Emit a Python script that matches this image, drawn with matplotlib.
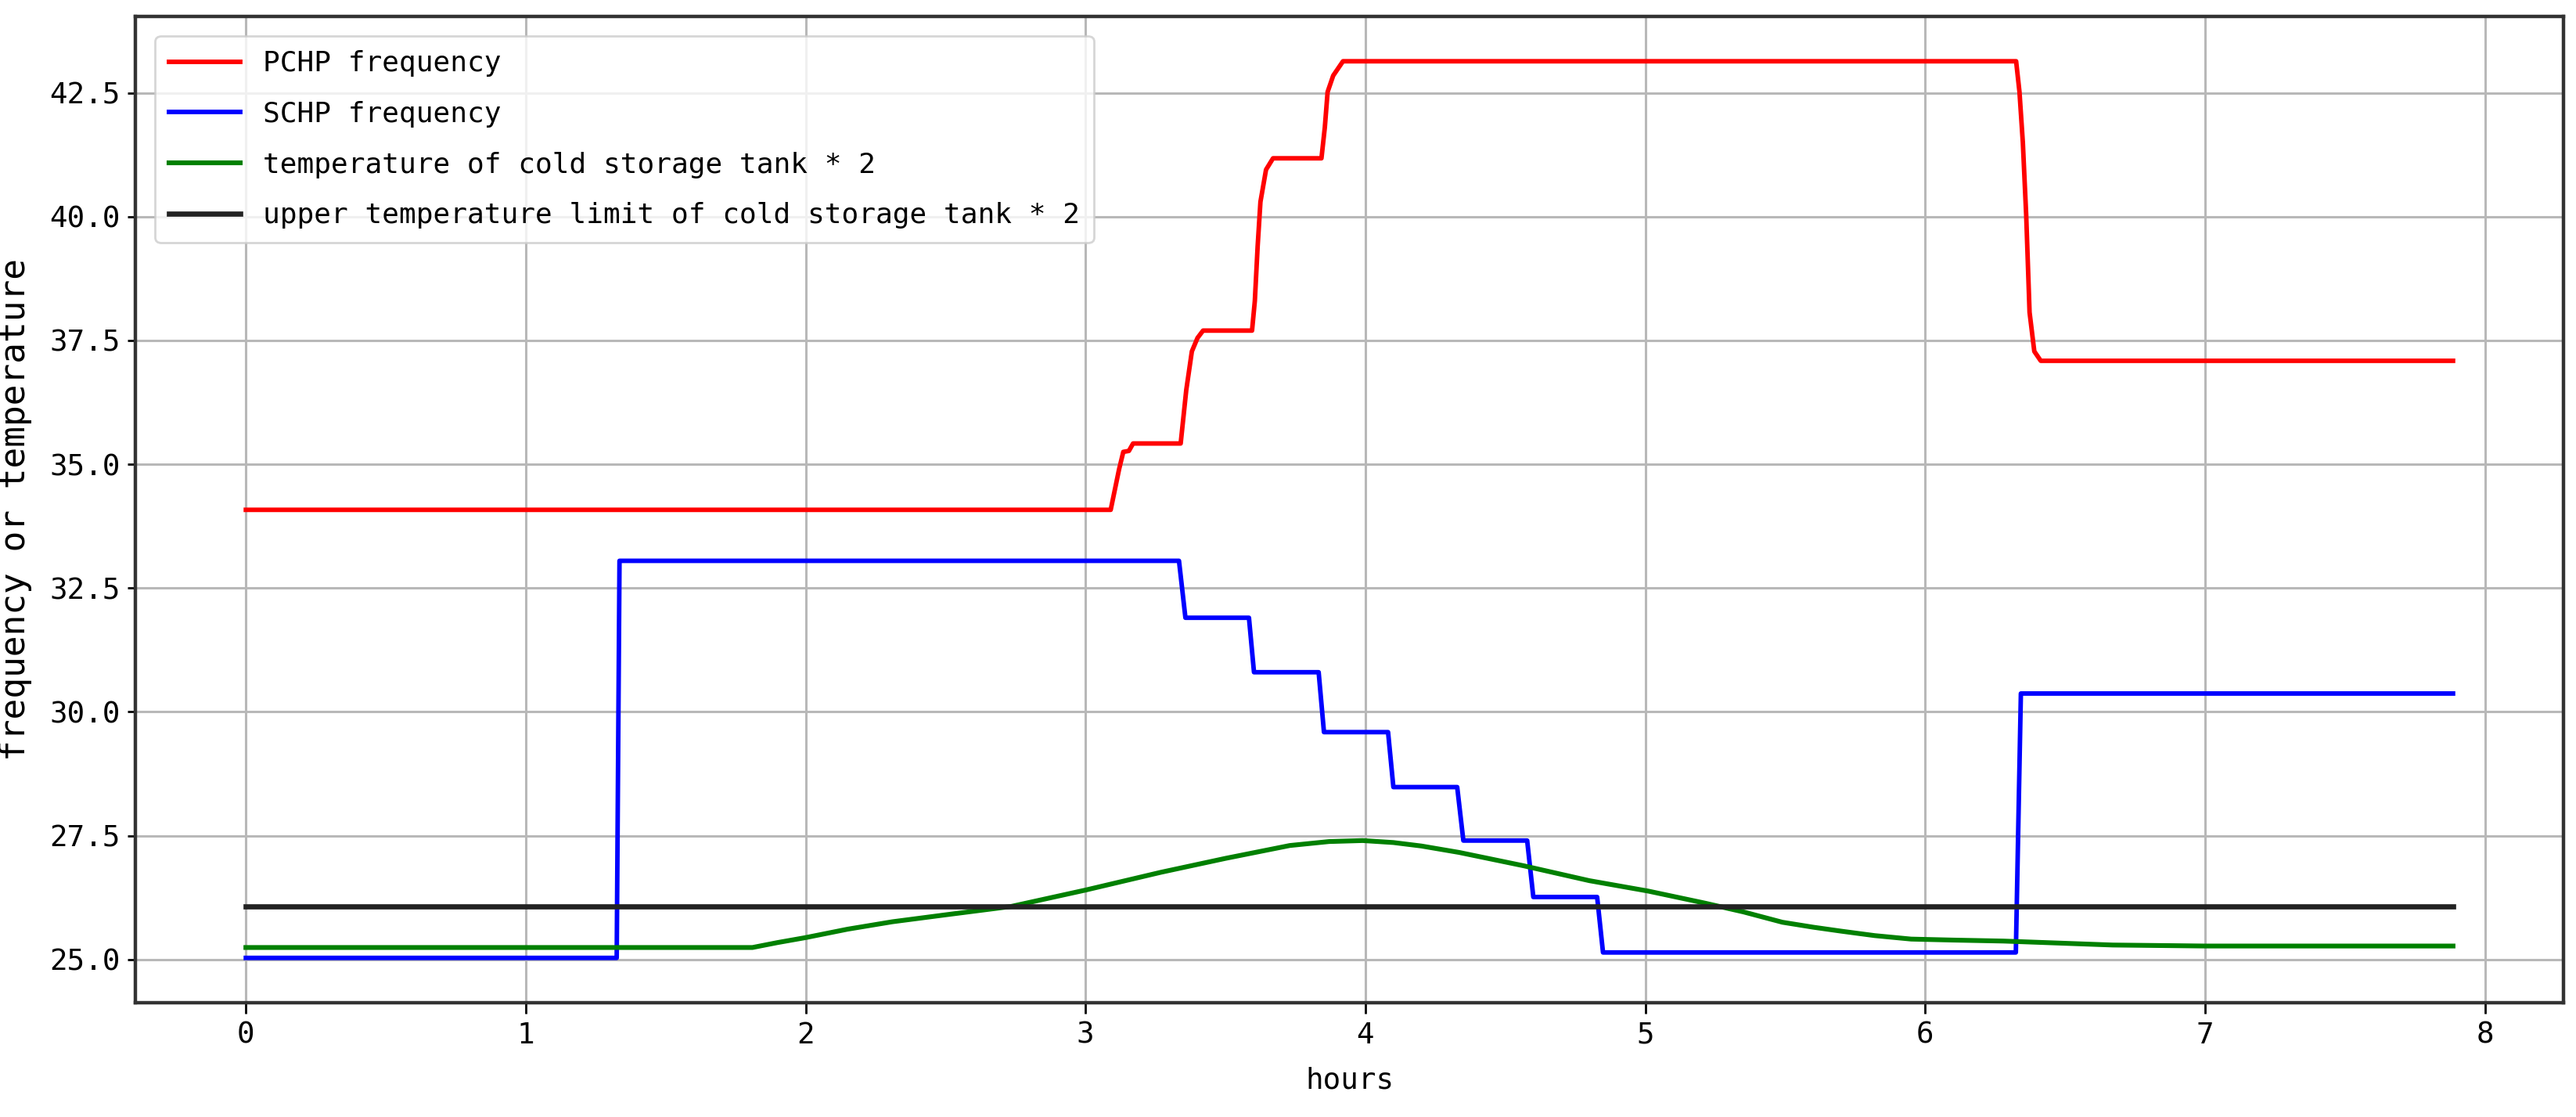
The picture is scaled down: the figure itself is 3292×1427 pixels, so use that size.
import matplotlib
matplotlib.use('Agg')
import matplotlib.pyplot as plt

# PCHP frequency (red)
pchp_hours = [0, 3.09, 3.12, 3.135, 3.155, 3.17, 3.34, 3.36, 3.38, 3.40, 3.42, 3.595,
              3.605, 3.615, 3.625, 3.645, 3.67, 3.843, 3.855, 3.865, 3.885, 3.92, 6.325,
              6.337, 6.349, 6.361, 6.373, 6.39, 6.413, 7.886]
pchp_freq = [34.08, 34.08, 34.9, 35.25, 35.27, 35.42, 35.42, 36.5, 37.28, 37.55, 37.70, 37.70,
             38.3, 39.4, 40.3, 40.95, 41.18, 41.18, 41.8, 42.52, 42.85, 43.14, 43.14,
             42.52, 41.5, 40.03, 38.07, 37.28, 37.09, 37.09]

# SCHP frequency (blue)
schp_hours = [0, 1.325, 1.335, 3.334, 3.357, 3.584, 3.602, 3.833, 3.852, 4.081, 4.10,
              4.328, 4.35, 4.578, 4.60, 4.828, 4.849, 6.324, 6.342, 7.886]
schp_freq = [25.03, 25.03, 33.05, 33.05, 31.90, 31.90, 30.80, 30.80, 29.59, 29.59, 28.48,
             28.48, 27.40, 27.40, 26.26, 26.26, 25.14, 25.14, 30.37, 30.37]

# cold storage tank temperature * 2 (green)
tank_hours = [0, 1.81, 1.9, 2.0, 2.15, 2.31, 2.5, 2.735, 3.0, 3.27, 3.5, 3.73, 3.87, 3.99,
              4.1, 4.2, 4.335, 4.566, 4.80, 5.01, 5.21, 5.35, 5.49, 5.60, 5.70, 5.82, 5.95,
              6.1, 6.28, 6.67, 7.0, 7.886]
tank_temp = [25.24, 25.24, 25.34, 25.44, 25.61, 25.76, 25.9, 26.07, 26.40, 26.76, 27.04,
             27.30, 27.38, 27.40, 27.36, 27.29, 27.16, 26.89, 26.59, 26.38, 26.14, 25.96,
             25.75, 25.65, 25.57, 25.48, 25.41, 25.39, 25.37, 25.29, 25.27, 25.27]

# upper temperature limit * 2 (black)
limit_hours = [0, 7.886]
limit_temp = [26.07, 26.07]

plt.rcParams['font.family'] = ['DejaVu Sans Mono']

fig, ax = plt.subplots(figsize=(16.46, 7.135), dpi=200)
fig.subplots_adjust(left=0.0526, right=0.9951, bottom=0.1023, top=0.9853)

ax.plot(pchp_hours, pchp_freq, color='red', lw=2.1, label='PCHP frequency')
ax.plot(schp_hours, schp_freq, color='blue', lw=2.1, label='SCHP frequency')
ax.plot(tank_hours, tank_temp, color='green', lw=2.2, label='temperature of cold storage tank * 2')
ax.plot(limit_hours, limit_temp, color='#222222', lw=2.4,
        label='upper temperature limit of cold storage tank * 2')

ax.grid(True, color='#b8b8b8', lw=1.1)
ax.set_xlabel('hours', fontsize=13.5, labelpad=8)
ax.set_ylabel('frequency or temperature', fontsize=16, labelpad=8)
ax.tick_params(labelsize=13.5, width=1.0)
ax.tick_params(axis='x', length=5)
for s in ax.spines.values():
    s.set_linewidth(1.6)
    s.set_color('#333333')

ax.legend(loc='upper left', fontsize=13, handlelength=2.5, labelspacing=0.85,
          borderpad=0.5, borderaxespad=0.7)

fig.savefig('out.png', dpi=200)
